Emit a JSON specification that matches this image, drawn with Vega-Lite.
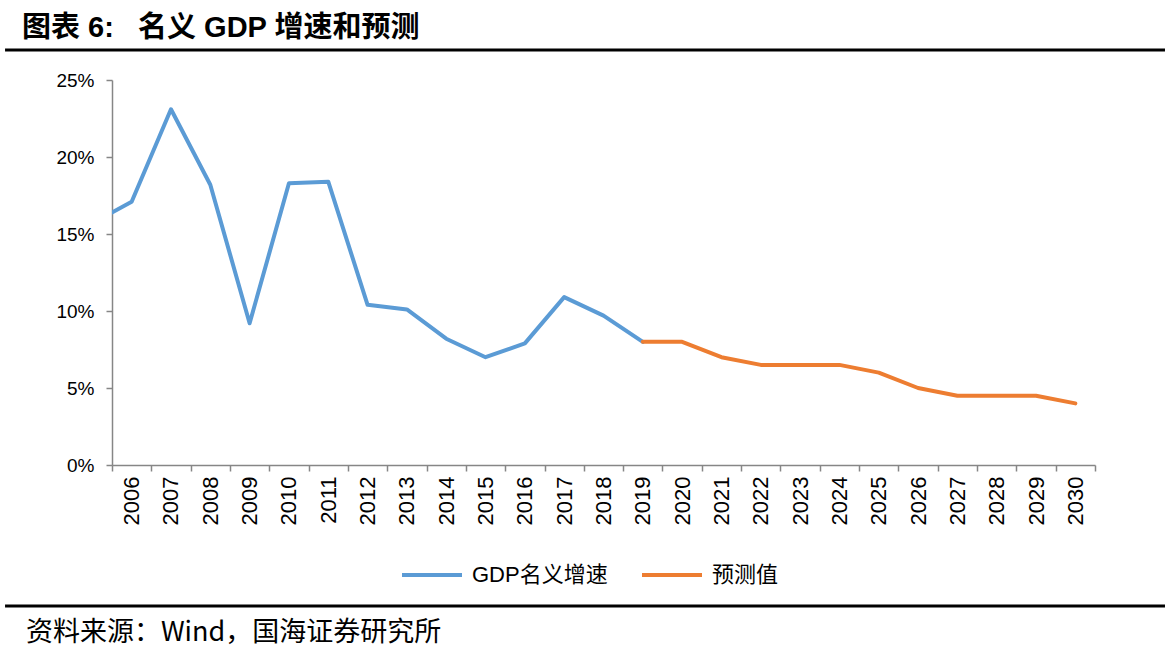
{
  "$schema": "https://vega.github.io/schema/vega-lite/v6.json",
  "width": 983,
  "height": 385,
  "autosize": {"type": "none"},
  "padding": {"left": 112, "top": 80, "right": 77, "bottom": 195},
  "background": "white",
  "config": {"view": {"stroke": null}},
  "title": {
    "text": "图表 6:\u00a0\u00a0\u00a0名义 GDP 增速和预测",
    "anchor": "start",
    "frame": "group",
    "dx": -90,
    "offset": 5,
    "fontSize": 29,
    "font": "Liberation Sans, Noto Sans CJK SC",
    "fontWeight": "bold",
    "color": "black"
  },
  "resolve": {"axis": {"x": "independent", "y": "independent"}},
  "datasets": {
    "gdp": [
      {"year": 2005, "value": 0.157, "series": "GDP名义增速"},
      {"year": 2006, "value": 0.171, "series": "GDP名义增速"},
      {"year": 2007, "value": 0.231, "series": "GDP名义增速"},
      {"year": 2008, "value": 0.182, "series": "GDP名义增速"},
      {"year": 2009, "value": 0.092, "series": "GDP名义增速"},
      {"year": 2010, "value": 0.183, "series": "GDP名义增速"},
      {"year": 2011, "value": 0.184, "series": "GDP名义增速"},
      {"year": 2012, "value": 0.104, "series": "GDP名义增速"},
      {"year": 2013, "value": 0.101, "series": "GDP名义增速"},
      {"year": 2014, "value": 0.082, "series": "GDP名义增速"},
      {"year": 2015, "value": 0.070, "series": "GDP名义增速"},
      {"year": 2016, "value": 0.079, "series": "GDP名义增速"},
      {"year": 2017, "value": 0.109, "series": "GDP名义增速"},
      {"year": 2018, "value": 0.097, "series": "GDP名义增速"},
      {"year": 2019, "value": 0.080, "series": "GDP名义增速"},
      {"year": 2019, "value": 0.080, "series": "预测值"},
      {"year": 2020, "value": 0.080, "series": "预测值"},
      {"year": 2021, "value": 0.070, "series": "预测值"},
      {"year": 2022, "value": 0.065, "series": "预测值"},
      {"year": 2023, "value": 0.065, "series": "预测值"},
      {"year": 2024, "value": 0.065, "series": "预测值"},
      {"year": 2025, "value": 0.060, "series": "预测值"},
      {"year": 2026, "value": 0.050, "series": "预测值"},
      {"year": 2027, "value": 0.045, "series": "预测值"},
      {"year": 2028, "value": 0.045, "series": "预测值"},
      {"year": 2029, "value": 0.045, "series": "预测值"},
      {"year": 2030, "value": 0.040, "series": "预测值"}
    ]
  },
  "layer": [
    {
      "data": {"name": "gdp"},
      "mark": {"type": "line", "strokeWidth": 4, "strokeJoin": "round", "strokeCap": "round", "clip": true},
      "encoding": {
        "x": {
          "field": "year",
          "type": "quantitative",
          "scale": {"domain": [2005.5, 2030.5], "nice": false, "zero": false},
          "axis": {
            "title": null,
            "values": [2005.5, 2006.5, 2007.5, 2008.5, 2009.5, 2010.5, 2011.5, 2012.5, 2013.5, 2014.5, 2015.5, 2016.5, 2017.5, 2018.5, 2019.5, 2020.5, 2021.5, 2022.5, 2023.5, 2024.5, 2025.5, 2026.5, 2027.5, 2028.5, 2029.5, 2030.5],
            "labelExpr": "datum.value < 2030 ? format(datum.value + 0.5, 'd') : ''",
            "labelOffset": 19.66,
            "labelAngle": 270,
            "labelAlign": "right",
            "labelBaseline": "middle",
            "labelFontSize": 22,
            "labelFont": "Liberation Sans",
            "labelColor": "black",
            "labelPadding": 5,
            "labelOverlap": false,
            "labelFlush": false,
            "labelBound": false,
            "tickSize": 6,
            "tickColor": "#868686",
            "tickWidth": 1.5,
            "domainColor": "#868686",
            "domainWidth": 1.5,
            "grid": false
          }
        },
        "y": {
          "field": "value",
          "type": "quantitative",
          "scale": {"domain": [0, 0.25], "nice": false},
          "axis": {
            "title": null,
            "values": [0, 0.05, 0.1, 0.15, 0.2, 0.25],
            "format": ".0%",
            "labelFontSize": 19,
            "labelFont": "Liberation Sans",
            "labelColor": "black",
            "labelPadding": 12,
            "tickSize": 6,
            "tickColor": "#868686",
            "tickWidth": 1.5,
            "domainColor": "#868686",
            "domainWidth": 1.5,
            "grid": false
          }
        },
        "color": {
          "field": "series",
          "type": "nominal",
          "sort": ["GDP名义增速", "预测值"],
          "scale": {"domain": ["GDP名义增速", "预测值"], "range": ["#5B9BD5", "#ED7D31"]},
          "legend": {
            "title": null,
            "orient": "none",
            "legendX": 288,
            "legendY": 463,
            "direction": "horizontal",
            "symbolType": "stroke",
            "symbolSize": 3600,
            "symbolStrokeWidth": 4,
            "labelFontSize": 22,
            "labelFont": "Liberation Sans, Noto Sans CJK SC",
            "labelColor": "black",
            "labelOffset": 8,
            "columnPadding": 26,
            "labelLimit": 300
          }
        }
      }
    },
    {
      "data": {"values": [{}]},
      "mark": {"type": "rule", "color": "black", "strokeWidth": 3, "clip": false},
      "encoding": {
        "x": {"datum": 2002.78, "type": "quantitative", "scale": {"domain": [2005.5, 2030.5], "nice": false, "zero": false}, "axis": null},
        "x2": {"datum": 2032.28},
        "y": {"datum": 0.2695, "type": "quantitative", "scale": {"domain": [0, 0.25], "nice": false}, "axis": null}
      }
    },
    {
      "data": {"values": [{}]},
      "mark": {"type": "rule", "color": "black", "strokeWidth": 3, "clip": false},
      "encoding": {
        "x": {"datum": 2002.78, "type": "quantitative", "scale": {"domain": [2005.5, 2030.5], "nice": false, "zero": false}, "axis": null},
        "x2": {"datum": 2032.28},
        "y": {"datum": -0.0916, "type": "quantitative", "scale": {"domain": [0, 0.25], "nice": false}, "axis": null}
      }
    },
    {
      "data": {"values": [{}]},
      "mark": {"type": "text", "align": "left", "baseline": "middle", "fontSize": 27, "font": "Noto Sans CJK SC", "color": "black", "clip": false, "text": "资料来源：Wind，国海证券研究所"},
      "encoding": {
        "x": {"datum": 2003.31, "type": "quantitative", "scale": {"domain": [2005.5, 2030.5], "nice": false, "zero": false}, "axis": null},
        "y": {"datum": -0.1091, "type": "quantitative", "scale": {"domain": [0, 0.25], "nice": false}, "axis": null}
      }
    }
  ]
}
